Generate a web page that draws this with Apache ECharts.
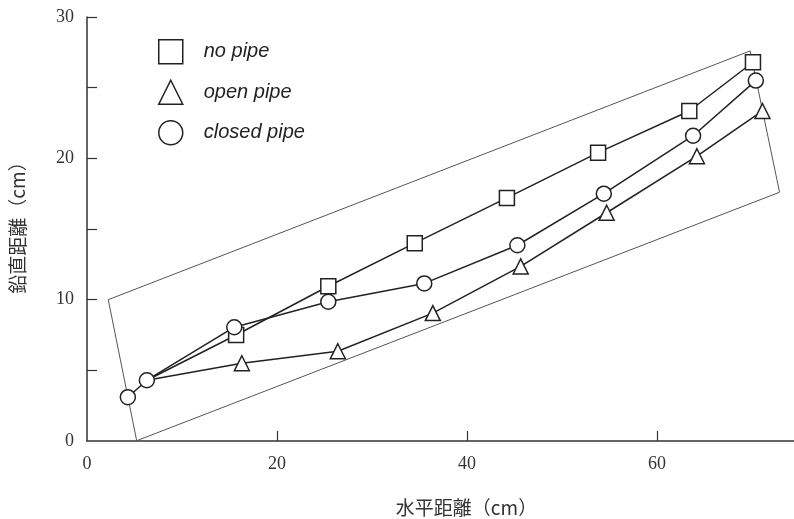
<!DOCTYPE html>
<html>
<head>
<meta charset="utf-8">
<script src="https://cdn.jsdelivr.net/npm/echarts@6/dist/echarts.min.js"></script>
<style>html,body{margin:0;padding:0;background:#fff;}#c{width:794px;height:519px;}</style>
</head>
<body>
<div id="c"></div>
<script>
// Data
const sharedStart = [6.3, 4.3];
const noPipeX = [15.7, 25.4, 34.5, 44.2, 53.8, 63.4, 70.1];
const noPipeY = [7.5, 10.95, 14.0, 17.2, 20.4, 23.35, 26.8];
const openPipeX = [16.3, 26.4, 36.4, 45.65, 54.7, 64.2, 71.1];
const openPipeY = [5.5, 6.35, 9.05, 12.35, 16.15, 20.15, 23.35];
const closedPipeX = [4.3, 15.5, 25.4, 35.5, 45.3, 54.4, 63.8, 70.4];
const closedPipeY = [3.1, 8.05, 9.85, 11.15, 13.85, 17.5, 21.6, 25.5];
const boxX = [2.24, 69.8, 72.9, 5.23, 2.24];
const boxY = [10.0, 27.6, 17.6, 0.02, 10.0];
const xTickLabels = [0, 20, 40, 60];
const xTickMarks = [20, 40, 60];
const yTickLabels = [0, 10, 20, 30];
const yTickMarks = [5, 10, 15, 20, 25, 30];
const names = ['no pipe', 'open pipe', 'closed pipe'];

function pts(xs, ys) { return xs.map((x, i) => [x, ys[i]]); }
const startItem = { value: sharedStart, symbol: 'none' };
const noPipe = [startItem].concat(pts(noPipeX, noPipeY));
const openPipe = [startItem].concat(pts(openPipeX, openPipeY));
const closedPipe = pts(closedPipeX, closedPipeY);
closedPipe.splice(1, 0, sharedStart);

const ink = '#222';
const sym = { color: '#fff', borderColor: ink, borderWidth: 1.5 };
const chart = echarts.init(document.getElementById('c'));
chart.setOption({
  animation: false,
  grid: { left: 87, right: 0, top: 17, bottom: 78, containLabel: false, outerBoundsMode: 'none' },
  legend: {
    left: 153, top: 34, orient: 'vertical',
    itemWidth: 24, itemHeight: 24, itemGap: 15,
    data: [
      { name: names[0], icon: 'rect' },
      { name: names[1], icon: 'triangle' },
      { name: names[2], icon: 'circle' }
    ],
    itemStyle: { color: '#fff', borderColor: ink, borderWidth: 1.5 },
    textStyle: { fontFamily: 'Liberation Sans', fontStyle: 'italic', fontSize: 20, color: ink, padding: [0, 0, 0, 16] }
  },
  xAxis: {
    type: 'value', min: 0, max: 74.42,
    name: '水平距離（cm）', nameLocation: 'middle', nameGap: 57,
    nameTextStyle: { fontFamily: 'Noto Sans CJK JP', fontSize: 19, color: '#333', padding: [0, 0, 0, 52] },
    axisLine: { lineStyle: { color: '#333', width: 1.5 } },
    axisTick: { inside: true, length: 10, customValues: xTickMarks, lineStyle: { color: '#333', width: 1.2 } },
    axisLabel: { customValues: xTickLabels, margin: 14, fontFamily: 'Liberation Serif', fontSize: 18, color: '#333' },
    splitLine: { show: false }
  },
  yAxis: {
    type: 'value', min: 0, max: 30,
    name: '鉛直距離（cm）', nameLocation: 'middle', nameGap: 60, nameRotate: 90,
    nameTextStyle: { fontFamily: 'Noto Sans CJK JP', fontSize: 19, color: '#333', padding: [0, 0, 0, 12] },
    axisLine: { lineStyle: { color: '#333', width: 1.5 } },
    axisTick: { inside: true, length: 10, customValues: yTickMarks, lineStyle: { color: '#333', width: 1.2 } },
    axisLabel: { customValues: yTickLabels, margin: 13, fontFamily: 'Liberation Serif', fontSize: 18, color: '#333' },
    splitLine: { show: false }
  },
  series: [
    { type: 'line', name: 'box', data: pts(boxX, boxY), symbol: 'none', silent: true, z: 1,
      lineStyle: { color: '#555', width: 1 } },
    { type: 'line', name: names[0], data: noPipe, symbol: 'rect', symbolSize: 15, z: 3,
      lineStyle: { color: ink, width: 1.5 }, itemStyle: sym },
    { type: 'line', name: names[1], data: openPipe, symbol: 'triangle', symbolSize: 15, z: 3,
      lineStyle: { color: ink, width: 1.5 }, itemStyle: sym },
    { type: 'line', name: names[2], data: closedPipe, symbol: 'circle', symbolSize: 15, z: 4,
      lineStyle: { color: ink, width: 1.5 }, itemStyle: sym }
  ]
});
</script>
</body>
</html>
